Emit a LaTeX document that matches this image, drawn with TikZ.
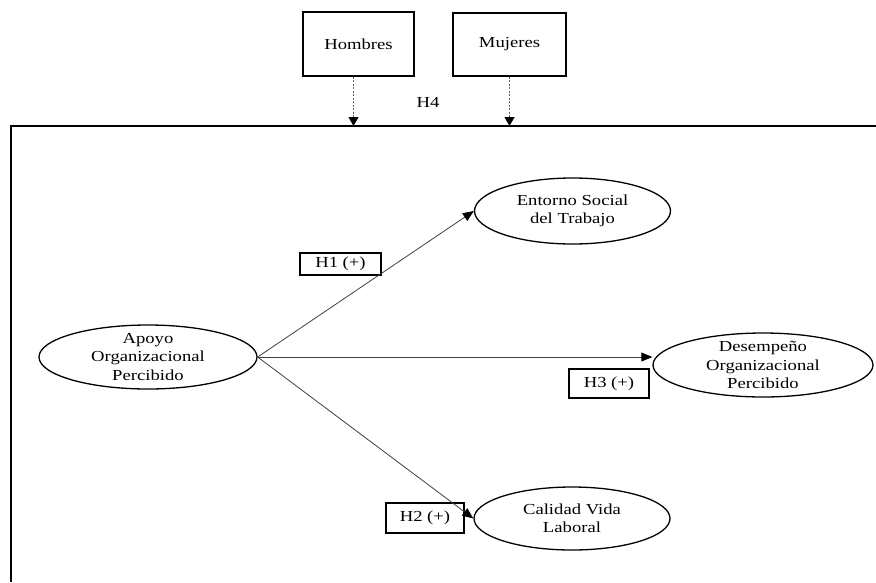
\documentclass[tikz,border=0pt]{standalone}
\usepackage{fontspec}
\setmainfont[FakeStretch=1.22]{Liberation Serif}
\usetikzlibrary{shapes.geometric,arrows.meta}
\begin{document}
\begin{tikzpicture}[x=1pt,y=-1pt,
  every node/.style={font=\fontsize{15.3}{18.3}\selectfont},
  ovalnode/.style={draw,ellipse,line width=1.3pt,inner xsep=0pt,inner ysep=-5pt,align=center,minimum width=#1,minimum height=64pt},
  boxnode/.style={draw,line width=1.3pt,inner sep=0pt,align=center},
  linkarrow/.style={draw=black!75,line width=0.8pt,-{Triangle[length=11pt,width=9pt,color=black]}},
  modarrow/.style={draw=black!60,line width=1.1pt,dash pattern=on 2pt off 1.5pt,-{Triangle[length=9pt,width=10pt,color=black]}}]
\useasboundingbox (0,0) rectangle (876,582);
% frame
\coordinate (ftopR) at (876,126);
\coordinate (ftopL) at (11,126);
\coordinate (fbot) at (11,582);
\draw[line width=1.3pt] (ftopR) -- (ftopL) -- (fbot);
% moderator boxes
\node[boxnode,minimum width=111pt,minimum height=64pt] (hombres) at (358.5,44) {Hombres};
\node[boxnode,minimum width=113pt,minimum height=63pt] (mujeres) at (509.5,44.5) {Mujeres};
\node (h4) at (428,102) {H4};
\draw[modarrow] ([xshift=-5pt]hombres.south) -- ([xshift=-5pt]hombres.south |- ftopL);
\draw[modarrow] (mujeres.south) -- (mujeres.south |- ftopL);
% constructs
\node[ovalnode=218pt] (apoyo) at (148,357) {Apoyo\\Organizacional\\Percibido};
\node[ovalnode=196pt,minimum height=66pt] (entorno) at (572.5,211) {Entorno Social\\del Trabajo};
\node[ovalnode=220pt] (desemp) at (763,365) {Desempeño\\Organizacional\\Percibido};
\node[ovalnode=196pt,minimum height=63pt] (calidad) at (572,518.5) {Calidad Vida\\Laboral};
% hypothesis labels
\node[boxnode,minimum width=81pt,minimum height=22pt] (h1) at (340.5,264) {H1 (+)};
\node[boxnode,minimum width=80pt,minimum height=29pt] (h3) at (609,383.5) {H3 (+)};
\node[boxnode,minimum width=78pt,minimum height=30pt] (h2) at (425,518) {H2 (+)};
% paths
\draw[linkarrow] (apoyo.east) -- (entorno.west);
\draw[linkarrow] (apoyo.east) -- (desemp.west |- apoyo.east);
\draw[linkarrow] (apoyo.east) -- (calidad.west);
\end{tikzpicture}
\end{document}
